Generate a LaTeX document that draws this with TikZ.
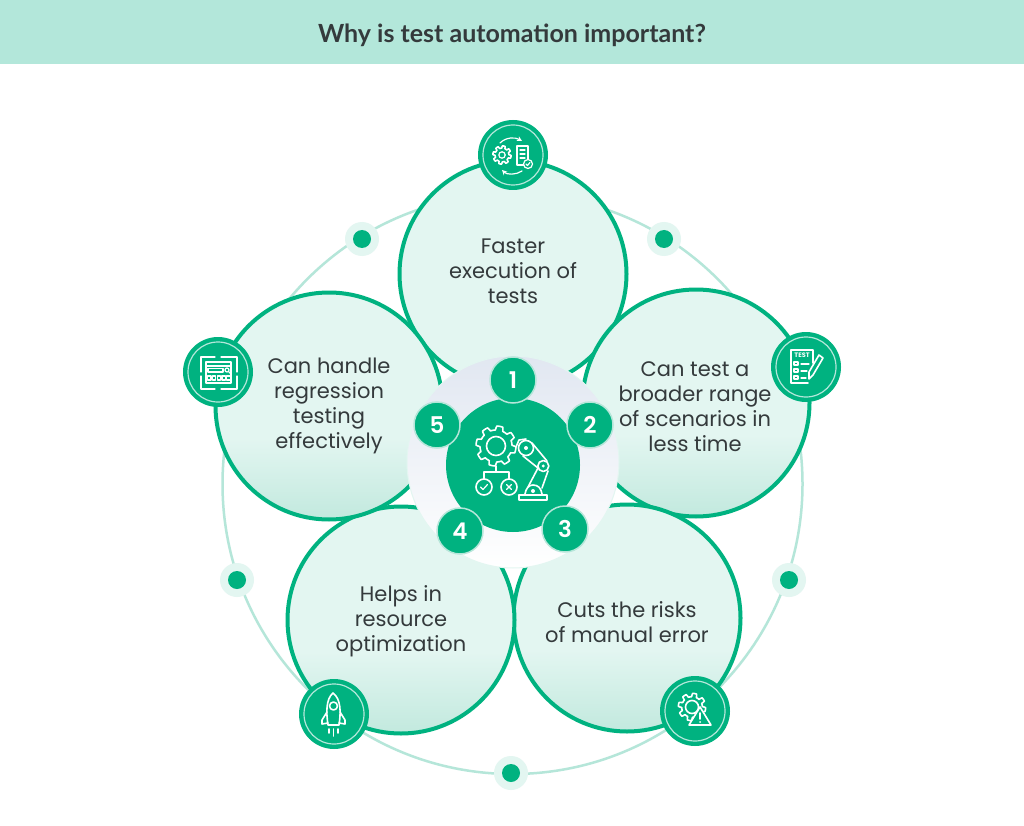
\documentclass[tikz,border=0pt]{standalone}
\usepackage{fontspec}
\setmainfont{Poppins}
\newfontfamily\titlefont{Lato}
\newfontfamily\numfont{Poppins SemiBold}
\usetikzlibrary{arrows.meta, positioning, calc}

\definecolor{mintband}{HTML}{B3E7DA}
\definecolor{mintpale}{HTML}{E3F6F1}
\definecolor{mintdeep}{HTML}{C2E9DE}
\definecolor{mintring}{HTML}{B5E6D9}
\definecolor{leafgreen}{HTML}{00B280}
\definecolor{inktext}{HTML}{343A3C}
\definecolor{hubgrey}{HTML}{E1E7F1}

\pgfdeclareverticalshading{petalfade}{100bp}{
  color(0bp)=(mintdeep); color(25bp)=(mintdeep); color(43bp)=(mintpale); color(100bp)=(mintpale)}

% gear outline: x, y, radius, tooth depth
\newcommand{\gearicon}[4]{%
  \draw[iconline, shift={(#1,#2)}] plot[domain=0:360, samples=145]
    (\x:{#3*(1+#4*max(-1,min(1,3*sin(8*\x))))}) -- cycle;}

\begin{document}
\begin{tikzpicture}[
  x=1pt, y=-1pt,
  % --- styles ------------------------------------------------------------
  petal/.style={
    circle, draw=leafgreen, line width=4pt, minimum size=227pt, fill=mintpale
  },
  petallow/.style={petal, shading=petalfade},
  petaltext/.style={
    font=\fontsize{21}{25}\selectfont, text=inktext, align=center, inner sep=0pt
  },
  badge/.style={
    circle, fill=leafgreen, minimum size=70pt, inner sep=0pt
  },
  badgering/.style={circle, draw=mintband, line width=1.2pt, minimum size=60pt, inner sep=0pt},
  numdisc/.style={
    circle, fill=leafgreen, draw=mintring, line width=1.5pt, minimum size=46pt,
    inner sep=0pt, text=white, font=\numfont\fontsize{23}{23}\selectfont
  },
  dothalo/.style={circle, fill=mintpale, minimum size=34pt, inner sep=0pt},
  dotcore/.style={circle, fill=leafgreen, minimum size=18pt, inner sep=0pt},
  iconline/.style={draw=white, line width=1.6pt, line join=round, line cap=round},
  iconfine/.style={draw=white, line width=1.2pt, line join=round, line cap=round}
]
\useasboundingbox (0,0) rectangle (1024,826);
\fill[white] (0,0) rectangle (1024,826);

% --------------------- title band ---------------------------------------
\fill[mintband] (0,0) rectangle (1024,64);
\node[font=\titlefont\bfseries\fontsize{25}{28}\selectfont, text=inktext] (title) at (512,35) {Why is test automation important?};

% --------------------- outer ring and dots ------------------------------
\node[circle, draw=mintring, line width=2.5pt, minimum size=580pt] (ring) at (512.5,484) {};
\foreach \i/\px/\py in {1/362/239, 2/664/239, 3/789/580, 4/511/773, 5/237/580} {
  \node[dothalo] (halo\i) at (\px,\py) {};
  \node[dotcore] (dot\i) at (\px,\py) {};
}

% --------------------- petals -------------------------------------------
\node[petal] (petal1) at (513,274) {};
\node[petallow] (petal2) at (696,403) {};
\node[petallow] (petal3) at (627,618) {};
\node[petallow] (petal4) at (401,620) {};
\node[petallow] (petal5) at (329,406) {};
\node[petaltext] (text1) at (513,271) {Faster\\execution of\\tests};
\node[petaltext] (text2) at (695,406.5) {Can test a\\broader range\\of scenarios in\\less time};
\node[petaltext] (text3) at (627,622) {Cuts the risks\\of manual error};
\node[petaltext] (text4) at (401,621) {Helps in\\resource\\optimization};
\node[petaltext] (text5) at (329,405.5) {Can handle\\regression\\testing\\effectively};

% --------------------- hub ----------------------------------------------
\node[circle, draw=mintpale, line width=1pt, minimum size=212pt, top color=hubgrey, bottom color=white] (hub) at (513,462) {};
\node[circle, fill=leafgreen, minimum size=134pt] (core) at (513,465) {};
\node[numdisc] (num1) at (513,380) {1};
\node[numdisc] (num2) at (590,425) {2};
\node[numdisc] (num3) at (565,529) {3};
\node[numdisc] (num4) at (460,531) {4};
\node[numdisc] (num5) at (437,425) {5};

% hub icon: gear, decision tree and robot arm
\gearicon{496}{446}{18}{0.11}
\draw[iconline] (496,446) circle (9.5);
\draw[iconline] (496,466) -- (496,472) (484,479) -- (484,472) -- (509,472) -- (509,479);
\draw[iconline] (484,487) circle (8) (509,487) circle (8);
\draw[iconfine] (480.5,487) -- (483,489.5) -- (487.5,484.5);
\draw[iconfine] (506.5,484.5) -- (511.5,489.5) (511.5,484.5) -- (506.5,489.5);
\draw[iconline] (519,500) -- (547,500) -- (547,495) -- (519,495) -- cycle;
\draw[iconline] (525,494) .. controls (526,488) and (529,485) .. (533,485) .. controls (538,485) and (541,488) .. (542,494);
\draw[iconline] (528,487) -- (538,468) (542,488) -- (548,471);
\draw[iconline] (543.3,466) circle (5.5) (526,448) circle (7.5);
\fill[white] (543.3,466) circle (1.6) (526,448) circle (2);
\draw[iconline] (532,443) -- (547,461) (523,456) -- (538,468);
\draw[iconline] (516,447) -- (519,440) -- (526,439);
\fill[white] (533,491) circle (2);

% --------------------- badges -------------------------------------------
\node[badge] (badge1) at (513,155) {};
\node[badgering] (ring1) at (badge1) {};
\node[badge] (badge2) at (806,367) {};
\node[badgering] (ring2) at (badge2) {};
\node[badge] (badge3) at (695,711) {};
\node[badgering] (ring3) at (badge3) {};
\node[badge] (badge4) at (334,714) {};
\node[badgering] (ring4) at (badge4) {};
\node[badge] (badge5) at (218,372) {};
\node[badgering] (ring5) at (badge5) {};

% badge 1: gear, sheet, arrows
\gearicon{502}{155}{8}{0.14}
\draw[iconfine] (502,155) circle (3.2);
\draw[iconfine] (528,160) -- (528,146) -- (517,146) -- (517,165) -- (524,165);
\draw[iconfine] (520,150) -- (525,150) (520,154) -- (525,154) (520,158) -- (525,158);
\draw[iconfine, fill=leafgreen] (528,164) circle (4.5);
\draw[iconfine] (526,164) -- (527.5,165.5) -- (530,162.5);
\draw[iconfine, -{Stealth[length=5pt, width=5pt]}] (500,143) .. controls (506,137) and (515,137) .. (522,141);
\draw[iconfine, -{Stealth[length=5pt, width=5pt]}] (522,171) .. controls (516,175) and (507,175) .. (502,170);

% badge 2: test sheet and pencil
\draw[iconline] (813,363) -- (813,350) -- (791,350) -- (791,383) -- (808,383);
\node[font=\bfseries\fontsize{6.5}{7}\selectfont, text=white, inner sep=0pt] (testlabel) at (802,355.5) {TEST};
\draw[iconfine] (794,362) rectangle (798,365) (794,369) rectangle (798,372) (794,376) rectangle (798,379);
\draw[iconfine] (801,364) -- (809,364) (801,371) -- (807,371) (801,378) -- (806,378);
\draw[iconline, fill=leafgreen] (819,355) -- (823,358) -- (813,375) -- (809,379) -- (809,372) -- cycle;

% badge 3: gear and warning sign
\gearicon{692}{707}{12}{0.14}
\draw[iconline] (692,707) circle (6.5);
\draw[iconline, fill=leafgreen] (700,707) -- (711,725) -- (689,725) -- cycle;
\draw[iconline] (700,713) -- (700,719);
\fill[white] (700,722) circle (1);

% badge 4: rocket
\draw[iconline] (333,693) .. controls (326,699) and (326,712) .. (328,725) -- (339,725) .. controls (341,712) and (341,699) .. (333,693) -- cycle;
\draw[iconline] (333.5,706) circle (4);
\draw[iconline] (327,712) -- (322,720) -- (322,724) -- (328,723);
\draw[iconline] (340,712) -- (345,720) -- (345,724) -- (339,723);
\draw[iconline] (333.5,729) -- (333.5,736) (329,729) -- (329,733) (338,729) -- (338,733);

% badge 5: window, search bar, brackets
\draw[iconfine] (206,362) rectangle (231,383);
\draw[iconfine] (206,366) -- (231,366);
\draw[iconfine] (208,368.5) rectangle (223,372);
\draw[iconfine] (227,370) circle (2) (228.5,371.5) -- (230.5,373.5);
\foreach \i in {0,1,2,3,4} {
  \draw[iconfine] ({207.5+4.8*\i},376) rectangle ++(3.4,4);
}
\draw[iconfine] (201,372) -- (201,357) -- (215,357) (221,357) -- (237,357) -- (237,372);
\draw[iconfine] (201,376) -- (201,389) -- (215,389) (221,389) -- (237,389) -- (237,376);
\end{tikzpicture}
\end{document}
